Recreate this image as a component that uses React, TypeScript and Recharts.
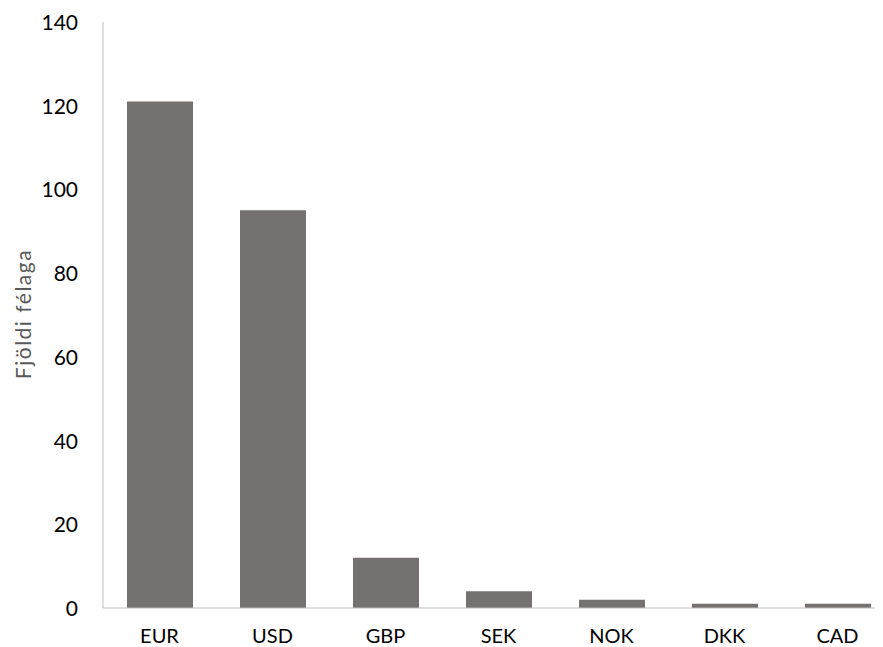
import React from 'react';
import { BarChart, Bar, XAxis, YAxis } from 'recharts';

const currencies = ['EUR', 'USD', 'GBP', 'SEK', 'NOK', 'DKK', 'CAD'];
const companyCounts = [121, 95, 12, 4, 2, 1, 1];
const yTicks = [0, 20, 40, 60, 80, 100, 120, 140];
const yAxisTitle = 'Fjöldi félaga';

const data = currencies.map((c, i) => ({ currency: c, count: companyCounts[i] }));

const font = "Lato, 'Open Sans', sans-serif";

const XTick = ({ x, y, payload }: any) => (
  <text x={x} y={y + 33} textAnchor="middle" fontSize={20} fontFamily={font} fill="#000">
    {payload.value}
  </text>
);

const YTick = ({ x, y, payload }: any) => (
  <text x={x - 23} y={y + 8} textAnchor="end" fontSize={21} fontFamily={font} fill="#000">
    {payload.value}
  </text>
);

const YTitle = () => (
  <text
    x={0}
    y={0}
    transform="translate(23, 306) rotate(-90)"
    textAnchor="middle"
    fontSize={21}
    letterSpacing={1.5}
    fontFamily={font}
    fill="#595959"
  >
    {yAxisTitle}
  </text>
);

export default function App() {
  return (
    <div style={{ width: 875, height: 639, overflow: 'hidden', fontFamily: font }}>
      <BarChart width={886} height={639} data={data} margin={{ top: 14, right: 0, bottom: 0, left: 0 }}>
        <XAxis
          dataKey="currency"
          height={39}
          tickLine={false}
          tickSize={0}
          axisLine={{ stroke: '#bfbfbf' }}
          tick={XTick}
        />
        <YAxis
          width={95}
          domain={[0, 140]}
          ticks={yTicks}
          tickLine={false}
          tickSize={0}
          axisLine={{ stroke: '#bfbfbf' }}
          tick={YTick}
          label={<YTitle />}
        />
        <Bar dataKey="count" fill="#767171" barSize={66} isAnimationActive={false} />
      </BarChart>
    </div>
  );
}
